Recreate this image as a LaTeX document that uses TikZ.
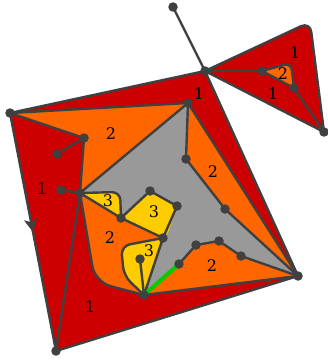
\documentclass[tikz,border=0pt]{standalone}
\usepackage{fontspec}
\setmainfont{DejaVu Serif}
\usetikzlibrary{arrows.meta,decorations.markings}
\definecolor{cred}{RGB}{204,0,0}
\definecolor{corange}{RGB}{255,102,0}
\definecolor{cgray}{RGB}{153,153,153}
\definecolor{cyellow}{RGB}{255,204,0}
\definecolor{cline}{RGB}{64,64,64}
\definecolor{cgreen}{RGB}{0,204,0}
\tikzset{
  x=1pt,y=-1pt,
  edge/.style={draw=cline,line width=2.4pt,line join=round,line cap=round},
  dot/.style={circle,fill=cline,inner sep=0pt,minimum size=9.5pt},
  lab/.style={font=\fontsize{16}{16}\selectfont,text=black,inner sep=0pt},
}
\begin{document}
\begin{tikzpicture}
\useasboundingbox (0,0) rectangle (327,361);
% vertex coordinates
\coordinate (T) at (173,7);
\coordinate (C) at (205,71);
\coordinate (R1) at (262,71);
\coordinate (R2) at (294,88);
\coordinate (R3) at (324,132);
\coordinate (RC) at (310,22);
\coordinate (RO) at (291,63);
\coordinate (L) at (10,113);
\coordinate (I1) at (188,103);
\coordinate (A) at (84,138);
\coordinate (B) at (57,154);
\coordinate (D) at (186,159);
\coordinate (E) at (61,190);
\coordinate (F) at (80,193);
\coordinate (G) at (121,218);
\coordinate (H) at (150,191);
\coordinate (J) at (177,206);
\coordinate (K) at (163,238);
\coordinate (P) at (140,259);
\coordinate (Q) at (144,295);
\coordinate (S) at (179,264);
\coordinate (U) at (196,245);
\coordinate (V) at (219,241);
\coordinate (W) at (241,256);
\coordinate (Z) at (298,276);
\coordinate (Y) at (225,209);
\coordinate (BL) at (56,351);
\coordinate (OC) at (95,282);
\coordinate (YC1) at (121,246);
\coordinate (YC2) at (124,276);
\coordinate (YT) at (120,192);
\coordinate (YM) at (167,236);

% big red region
\fill[cred] (C) -- (L) -- (BL) -- (Z) -- cycle;
% right red triangle
\fill[cred, rounded corners=10pt] (C) -- (RC) -- (R3) -- cycle;
\fill[corange, rounded corners=7pt] (R1) -- (RO) -- (R2) -- cycle;
% orange main
\fill[corange] (L) -- (I1) -- (Z) -- (Q) [rounded corners=16pt] -- (OC) [sharp corners] -- (F) -- (A) -- cycle;
% gray
\fill[cgray] (F) -- (I1) -- (D) -- (Y) -- (Z) -- (W) -- (V) -- (U) -- (S) -- (Q) -- (K) -- (G) -- cycle;
% yellows
\fill[cyellow, rounded corners=8pt] (F) -- (YT) [sharp corners] -- (G) -- cycle;
\fill[cyellow] (G) -- (H) -- (J) [rounded corners=4pt] -- (YM) [sharp corners] -- (K) -- cycle;
\fill[cyellow, rounded corners=9pt] (K) -- (YC1) -- (YC2) [sharp corners] -- (Q) -- cycle;

% edges
\draw[edge] (T) -- (C);
\draw[edge] (C) -- (R1) -- (R2) -- (R3) -- cycle;
\draw[edge, rounded corners=10pt] (C) -- (RC) -- (R3);
\draw[edge, rounded corners=7pt] (R1) -- (RO) -- (R2);
\draw[edge] (C) -- (L);
\draw[edge, decoration={markings, mark=at position 0.5 with {\arrow{Stealth[length=13pt,width=13pt,inset=3pt]}}}, postaction={decorate}] (L) -- (BL);
\draw[edge] (BL) -- (Z) -- (C);
\draw[edge] (L) -- (I1) -- (Z);
\draw[edge] (L) -- (A) -- (B);
\draw[edge] (A) -- (F) -- (E);
\draw[edge] (F) -- (BL);
\draw[edge] (F) -- (I1);
\draw[edge] (I1) -- (D) -- (Y) -- (Z);
\draw[edge] (Z) -- (W) -- (V) -- (U) -- (S);
\draw[edge] (Z) -- (Q);
\draw[edge] (Q) [rounded corners=16pt] -- (OC) [sharp corners] -- (F);
\draw[edge, rounded corners=8pt] (F) -- (YT) -- (G);
\draw[edge] (F) -- (G) -- (H) -- (J) -- (K) -- (Q);
\draw[edge] (G) -- (K);
\draw[edge, rounded corners=9pt] (K) -- (YC1) -- (YC2) -- (Q);
\draw[edge] (Q) -- (P);
\draw[line width=4pt, cgreen] (Q) -- (S);

% dots
\foreach \p in {T,C,R1,R2,R3,L,I1,A,B,D,E,F,G,H,J,K,P,Q,S,U,V,W,Z,Y,BL}
  \node[dot] (n\p) at (\p) {};

% labels
\node[lab] (l1) at (295,53) {1};
\node[lab] (l2) at (283,74) {2};
\node[lab] (l3) at (273,94) {1};
\node[lab] (l4) at (199,94) {1};
\node[lab] (l5) at (111,134) {2};
\node[lab] (l6) at (213,172) {2};
\node[lab] (l7) at (42,189) {1};
\node[lab] (l8) at (108,201) {3};
\node[lab] (l9) at (154,212) {3};
\node[lab] (l10) at (110,238) {2};
\node[lab] (l11) at (149,251) {3};
\node[lab] (l12) at (212,266) {2};
\node[lab] (l13) at (90,307) {1};
\end{tikzpicture}
\end{document}
